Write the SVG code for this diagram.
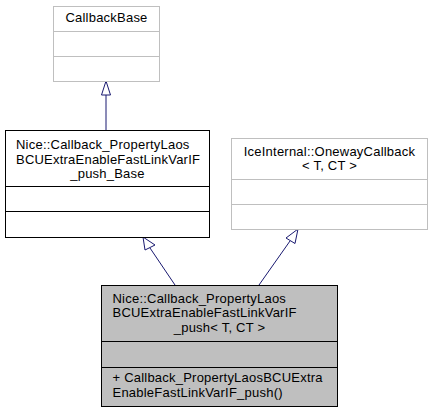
<svg xmlns="http://www.w3.org/2000/svg" width="432" height="412" viewBox="0 0 432 412">
<defs>
<style>
text{font-family:"Liberation Sans",Arial,sans-serif;font-size:13px;letter-spacing:0.22px;fill:#000}
.c{text-anchor:middle}
.gray{fill:#fff;stroke:#bfbfbf;stroke-width:1}
.blk{fill:#fff;stroke:#000;stroke-width:1}
.sel{fill:#bfbfbf;stroke:#000;stroke-width:1}
.edge{stroke:#191970;stroke-width:1;fill:none}
.head{fill:#fff;stroke:#191970;stroke-width:1}
</style>
</defs>
<rect width="432" height="412" fill="#fff"/>
<g id="connectors">
<line class="edge" x1="106" y1="130" x2="106" y2="95"/>
<polygon class="head" points="106,81 101.5,95 110.5,95"/>
<line class="edge" x1="175" y1="285" x2="150" y2="248"/>
<polygon class="head" points="143,237 145,250 155,245"/>
<line class="edge" x1="259" y1="285" x2="290" y2="241"/>
<polygon class="head" points="298,229 286,238 295,243.5"/>
</g>
<g id="node-callbackbase">
<rect class="gray" x="53.5" y="6.5" width="106" height="75"/>
<line class="gray" x1="53.5" y1="31.5" x2="159.5" y2="31.5"/>
<line class="gray" x1="53.5" y1="56.5" x2="159.5" y2="56.5"/>
<text class="c" x="106.5" y="21.5">CallbackBase</text>
</g>
<g id="node-base">
<rect class="blk" x="5.5" y="130.5" width="204" height="107"/>
<line class="blk" x1="5.5" y1="186.5" x2="209.5" y2="186.5"/>
<line class="blk" x1="5.5" y1="211.5" x2="209.5" y2="211.5"/>
<text x="16" y="149">Nice::Callback_PropertyLaos</text>
<text x="16" y="163.5">BCUExtraEnableFastLinkVarIF</text>
<text class="c" x="107.5" y="178">_push_Base</text>
</g>
<g id="node-oneway">
<rect class="gray" x="231.5" y="138.5" width="196" height="91"/>
<line class="gray" x1="231.5" y1="179.5" x2="427.5" y2="179.5"/>
<line class="gray" x1="231.5" y1="204.5" x2="427.5" y2="204.5"/>
<text class="c" x="329.5" y="155.5">IceInternal::OnewayCallback</text>
<text class="c" x="329.5" y="169.5">&lt; T, CT &gt;</text>
</g>
<g id="node-push">
<rect class="sel" x="101.5" y="285.5" width="236" height="121"/>
<line class="sel" x1="101.5" y1="341.5" x2="337.5" y2="341.5"/>
<line class="sel" x1="101.5" y1="367.5" x2="337.5" y2="367.5"/>
<text x="112.5" y="302.5">Nice::Callback_PropertyLaos</text>
<text x="112.5" y="317">BCUExtraEnableFastLinkVarIF</text>
<text class="c" x="219.5" y="331.5">_push&lt; T, CT &gt;</text>
<text x="112.5" y="382">+ Callback_PropertyLaosBCUExtra</text>
<text x="112.5" y="396.5">EnableFastLinkVarIF_push()</text>
</g>
</svg>
